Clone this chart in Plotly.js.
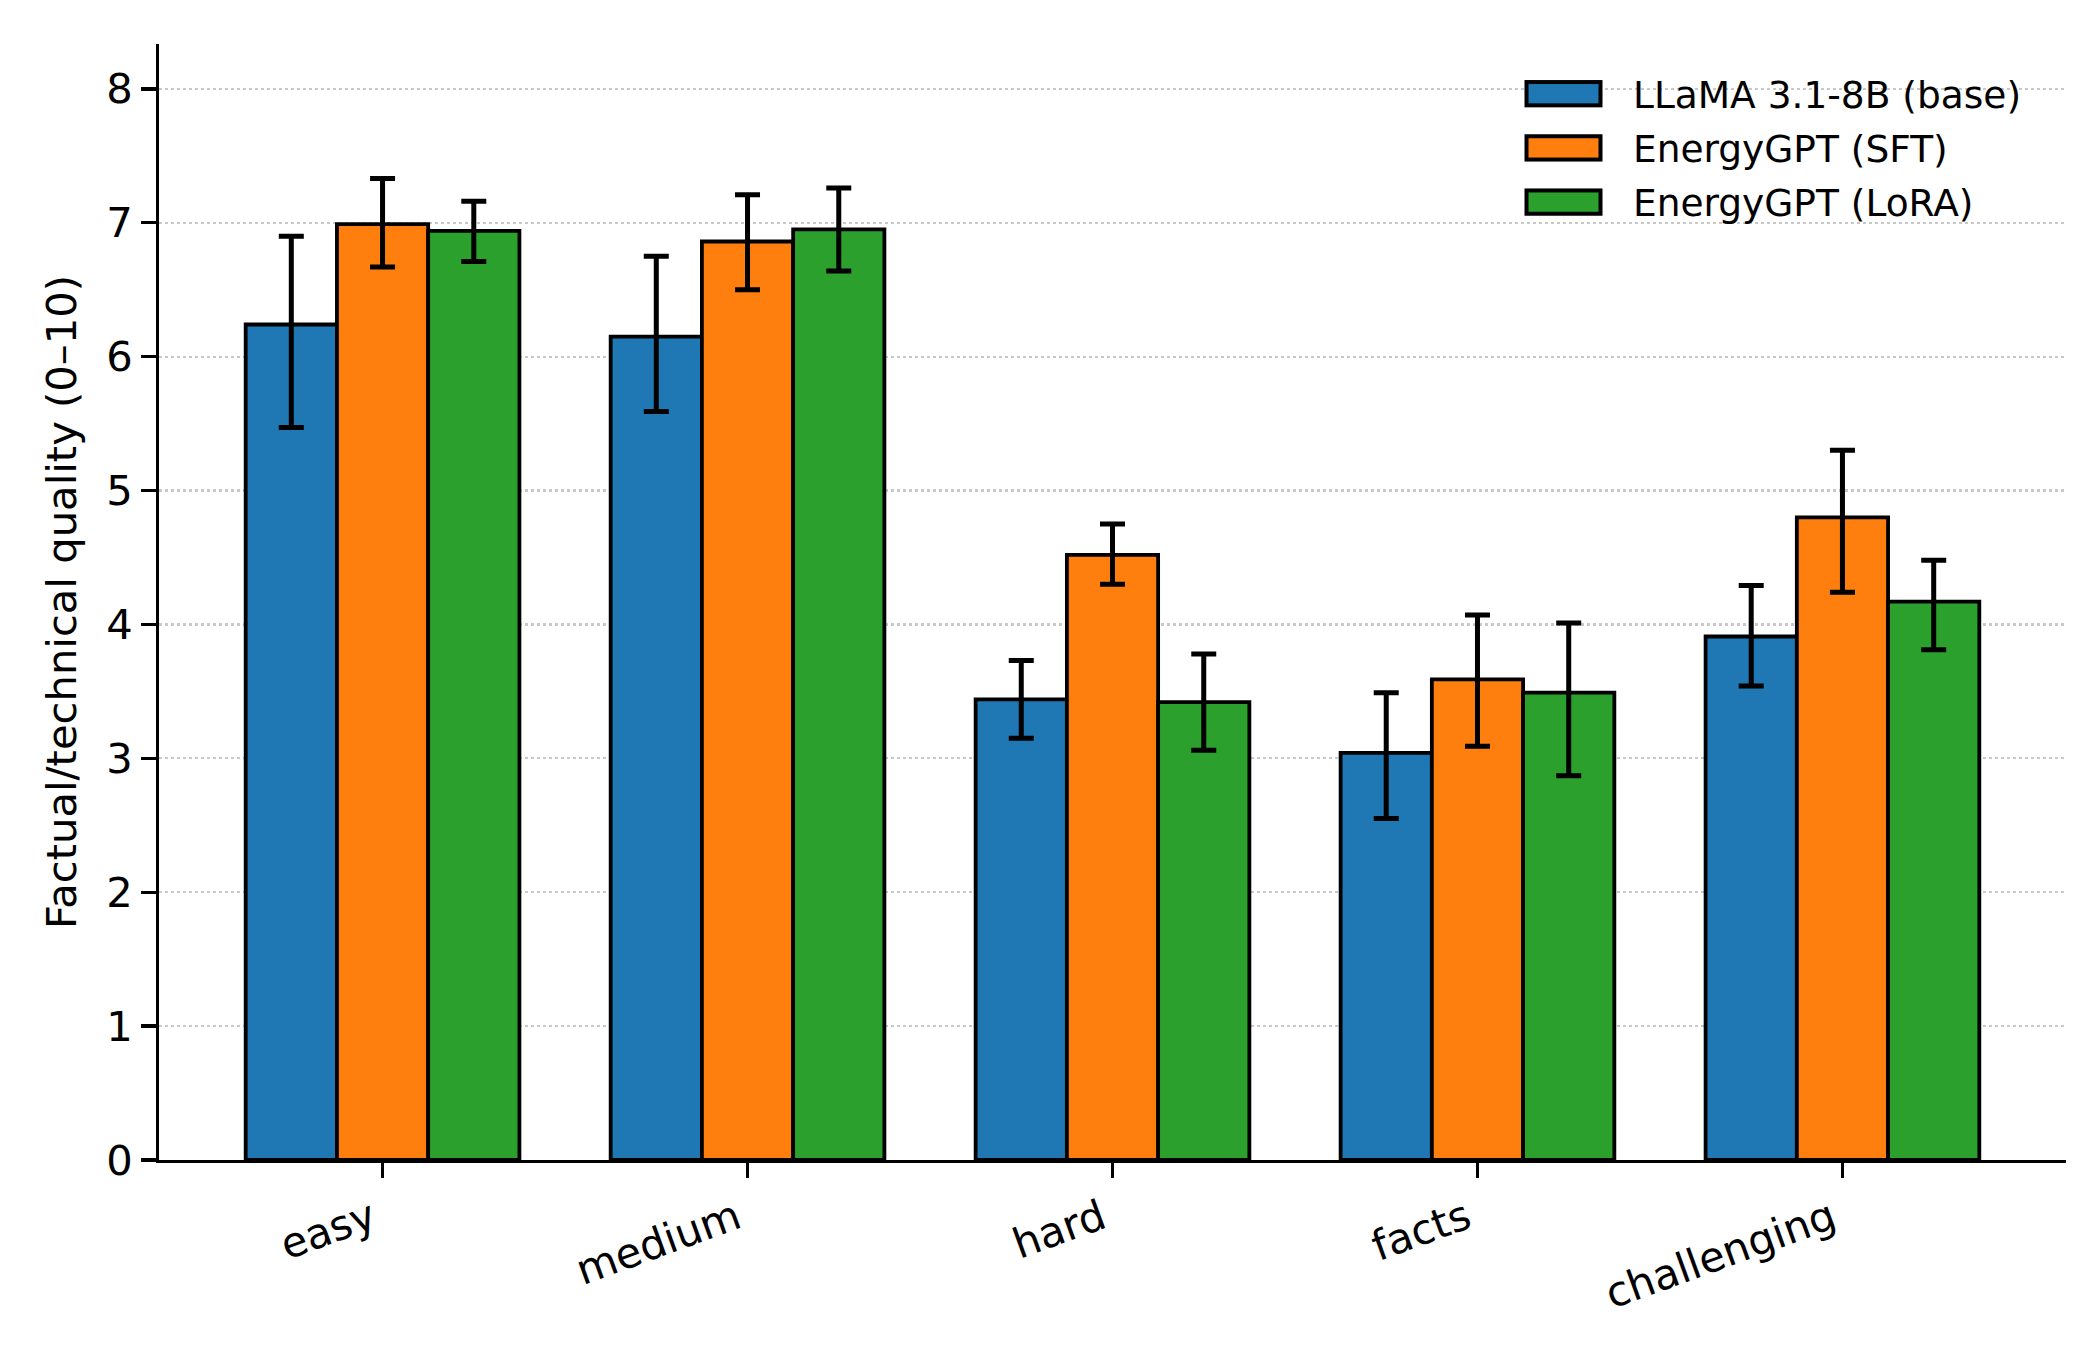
<!DOCTYPE html>
<html>
<head>
<meta charset="utf-8">
<script src="https://cdn.plot.ly/plotly-3.0.1.min.js"></script>
<style>html,body{margin:0;padding:0;background:#fff;}#chart{width:2100px;height:1350px;}</style>
</head>
<body>
<div id="chart"></div>
<script>
const categories = ["easy", "medium", "hard", "facts", "challenging"];
const seriesNames = ["LLaMA 3.1-8B (base)", "EnergyGPT (SFT)", "EnergyGPT (LoRA)"];
const baseMean = [6.24, 6.15, 3.44, 3.04, 3.91];
const baseUpper = [6.90, 6.75, 3.73, 3.49, 4.29];
const baseLower = [5.47, 5.59, 3.15, 2.55, 3.54];
const sftMean = [6.99, 6.86, 4.52, 3.59, 4.80];
const sftUpper = [7.33, 7.21, 4.75, 4.07, 5.30];
const sftLower = [6.67, 6.50, 4.30, 3.09, 4.24];
const loraMean = [6.94, 6.95, 3.42, 3.49, 4.17];
const loraUpper = [7.16, 7.26, 3.78, 4.01, 4.48];
const loraLower = [6.71, 6.64, 3.06, 2.87, 3.81];
const colors = ["#1f77b4", "#ff7f0e", "#2ca02c"];
const yTicks = [0, 1, 2, 3, 4, 5, 6, 7, 8];

function mk(name, mean, up, lo, color) {
  return {
    type: "bar", name: name, x: categories, y: mean,
    marker: {color: color, line: {color: "#000", width: 3.8}},
    error_y: {
      type: "data", symmetric: false,
      array: up.map((u, i) => u - mean[i]),
      arrayminus: lo.map((l, i) => mean[i] - l),
      color: "#000", thickness: 5, width: 12.5
    }
  };
}
const data = [
  mk(seriesNames[0], baseMean, baseUpper, baseLower, colors[0]),
  mk(seriesNames[1], sftMean, sftUpper, sftLower, colors[1]),
  mk(seriesNames[2], loraMean, loraUpper, loraLower, colors[2])
];
const font = "DejaVu Sans, sans-serif";
const layout = {
  width: 2100, height: 1350,
  margin: {l: 159, r: 34, t: 44, b: 190},
  paper_bgcolor: "#fff", plot_bgcolor: "#fff",
  barmode: "group", bargap: 0.25, bargroupgap: 0,
  font: {family: font, size: 41.7, color: "#000"},
  xaxis: {
    type: "category", range: [-0.6125, 4.6125],
    showline: true, linecolor: "#000", linewidth: 3.3,
    ticks: "outside", ticklen: 14.6, tickwidth: 3.3, tickcolor: "#000",
    tickangle: -20, ticklabelshift: -11,
    tickfont: {family: font, size: 41.7, color: "#000"},
    showgrid: false, zeroline: false, automargin: false
  },
  yaxis: {
    range: [0, 8.335], tickvals: yTicks, ticktext: yTicks.map(String),
    showline: true, linecolor: "#000", linewidth: 3.3,
    ticks: "outside", ticklen: 14.6, tickwidth: 3.3, tickcolor: "#000",
    tickfont: {family: font, size: 41.7, color: "#000"},
    showgrid: true, gridcolor: "#c8c8c8", gridwidth: 2.2, griddash: "dot",
    zeroline: false, automargin: false,
    title: {text: "Factual/technical quality (0–10)", font: {family: font, size: 41.7, color: "#000"}, standoff: 17}
  },
  legend: {
    x: 0.985, xanchor: "right", y: 0.985, yanchor: "top",
    bgcolor: "rgba(0,0,0,0)", borderwidth: 0,
    font: {family: font, size: 37.5, color: "#000"},
    itemwidth: 110, tracegroupgap: 0
  },
  showlegend: true
};

const SVGNS = "http://www.w3.org/2000/svg";
function parseTranslate(el) {
  const m = /translate\(\s*([-\d.e]+)[\s,]+([-\d.e]+)\s*\)/.exec(el.getAttribute("transform") || "");
  return m ? [parseFloat(m[1]), parseFloat(m[2])] : [0, 0];
}

Plotly.newPlot("chart", data, layout, {displayModeBar: false, staticPlot: true}).then(function (gd) {
  const leg = gd.querySelector("g.legend");
  if (!leg) return;
  leg.querySelectorAll("[clip-path]").forEach(e => e.removeAttribute("clip-path"));
  const items = Array.from(leg.querySelectorAll("g.traces"));
  let y0 = null;
  items.forEach((g, i) => {
    const t = parseTranslate(g);
    if (y0 === null) y0 = t[1];
    g.setAttribute("transform", "translate(" + t[0] + "," + (y0 + i * 54.2) + ")");
  });
  items.forEach((g, i) => {
    const txt = g.querySelector("text.legendtext");
    if (!txt) return;
    g.querySelectorAll(".legendpoints path").forEach(p => p.style.display = "none");
    const bb = txt.getBBox();
    const capCenter = bb.y + 21.1;
    const r = document.createElementNS(SVGNS, "rect");
    r.setAttribute("x", bb.x - 30.5 - 78 + 2);
    r.setAttribute("y", capCenter - 11.65);
    r.setAttribute("width", 74);
    r.setAttribute("height", 23.3);
    r.setAttribute("fill", colors[i]);
    r.setAttribute("stroke", "#000");
    r.setAttribute("stroke-width", 4);
    g.appendChild(r);
  });
  const firstTxt = items.length ? items[0].querySelector("text.legendtext") : null;
  if (firstTxt) {
    const rc = firstTxt.getBoundingClientRect();
    const dx = 1633 - rc.left;
    const dy = 93.7 - (rc.top + 21.1);
    const t = parseTranslate(leg);
    leg.setAttribute("transform", "translate(" + (t[0] + dx) + "," + (t[1] + dy) + ")");
  }
});
</script>
</body>
</html>
